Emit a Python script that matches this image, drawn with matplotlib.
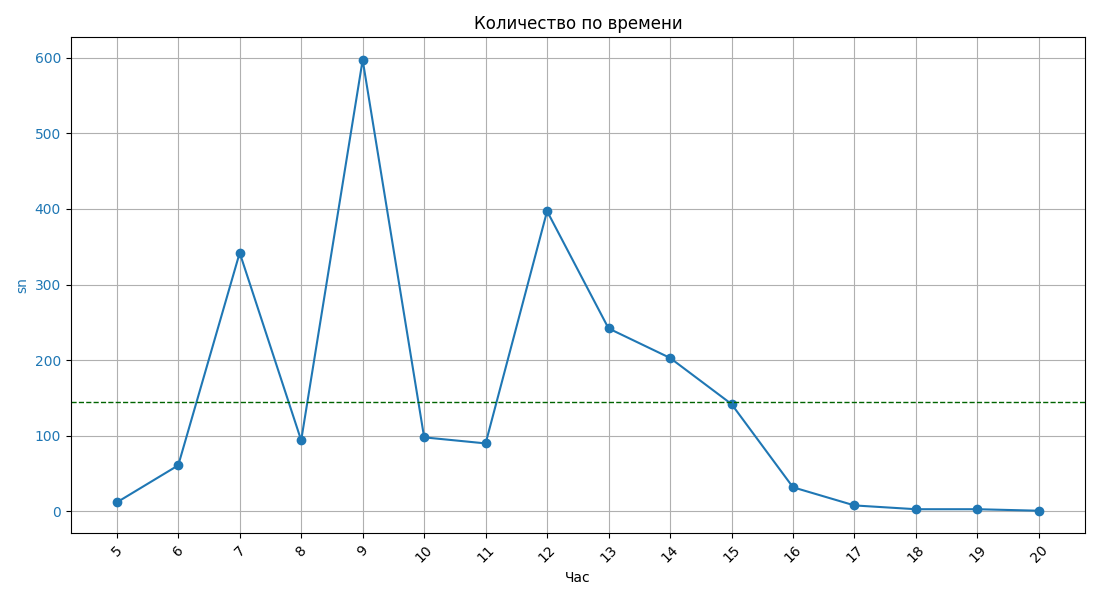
import matplotlib
matplotlib.use("Agg")
import matplotlib.pyplot as plt
import numpy as np

hours = [5, 6, 7, 8, 9, 10, 11, 12, 13, 14, 15, 16, 17, 18, 19, 20]
counts = [12, 61, 342, 94, 597, 98, 90, 397, 242, 203, 142, 32, 8, 3, 3, 1]

fig, ax = plt.subplots(figsize=(11, 6), dpi=100)
ax.plot(hours, counts, marker="o", color="tab:blue")
ax.axhline(np.mean(counts), color="darkgreen", linestyle="--", linewidth=1)
ax.set_title("Количество по времени")
ax.set_xlabel("Час")
ax.set_ylabel("sn", color="tab:blue")
ax.tick_params(axis="y", labelcolor="tab:blue")
ax.set_xticks(hours)
ax.set_xticklabels([str(h) for h in hours], rotation=45)
ax.grid(True)
fig.tight_layout()
fig.savefig("out.png")
